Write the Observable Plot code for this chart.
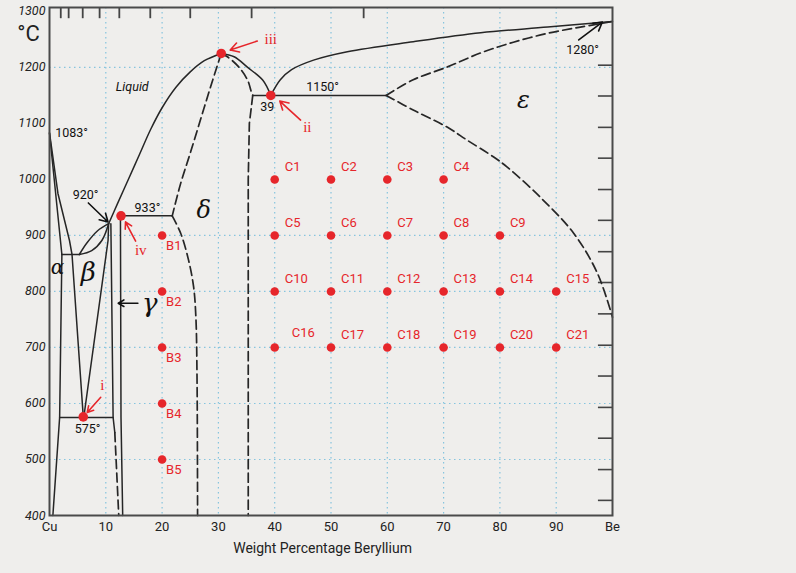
<!DOCTYPE html>
<html><head><meta charset="utf-8">
<script src="https://cdn.jsdelivr.net/npm/d3@7"></script>
<script src="https://cdn.jsdelivr.net/npm/@observablehq/plot@0.6"></script>
<style>
html,body{margin:0;padding:0;background:#efeeec;}
#chart{width:796px;height:573px;}
</style></head><body><div id="chart"></div>
<script>
// ---- axes / ticks ----
const xTickValues = [0,10,20,30,40,50,60,70,80,90,100];
const xTickLabels = ["Cu","10","20","30","40","50","60","70","80","90","Be"];
const yTickValues = [400,500,600,700,800,900,1000,1100,1200,1300];
const xGridValues = [10,20,30,40,50,60,70,80,90];
const yGridValues = [500,600,700,800,900,1200];
const atomicTickWt = [2.0,3.4,5.9,8.9,12.4,17.9,25.0,35.9,55.8];      // top ticks (atomic % positions)
const fahrenheitTickC = [427,482,538,593,649,704,760,816,871,927,982,1038,1093,1149,1204]; // right ticks (°F positions)
const xTitle = "Weight Percentage Beryllium";
const yUnit = "°C";

// ---- phase boundaries (wt% Be, °C) ----
const alphaSolidus   = [[0,1083],[2.2,866]];
const alphaSolvus    = [[2.2,866],[1.8,575],[0.6,400]];
const cuLiquidus     = [[0,1083],[1.5,975],[3.55,891],[4.0,866],[6.0,576]];
const peritectic866  = [[2.2,866],[5.3,866]];
const lensUpper      = [[5.3,866],[6.6,886],[8.5,908],[10.5,921]];
const lensLower      = [[5.3,866],[7.5,873],[9.3,891],[10.5,921]];
const betaRight      = [[10.5,921],[10.4,891],[6.1,576]];
const eutectoid575   = [[1.8,575],[11.3,575]];
const gammaLeft      = [[10.9,921],[11.3,575],[11.6,548]];
const gammaLeftDash  = [[11.6,548],[12.3,400]];
const gammaRight     = [[12.6,935],[12.7,575],[13.0,400]];
const line933        = [[12.7,935],[21.8,935]];
const liquidusDelta  = [[10.5,921],[12,955],[14,1000],[16,1045],[18,1090],[20,1128],[22.5,1165],[25,1192],[27.5,1212],[30.5,1225]];
const deltaCap       = [[30.5,1225],[32.8,1219],[35.2,1200],[37.9,1177],[39.3,1150]];
const line1150       = [[36.1,1150],[59.8,1150]];
const liquidusEps    = [[39.3,1150],[41,1178],[43,1196],[46.9,1213],[52.9,1228],[64.6,1246],[76.6,1262],[88.5,1272],[100,1282]];
const deltaLeftUpper = [[30.5,1225],[28.6,1165],[26.8,1106],[25.0,1047],[23.3,993],[21.8,935]];
const deltaLeftLower = [[21.8,935],[23.3,904],[24.7,856],[25.6,808],[26.0,754],[26.2,650],[26.3,400]];
const deltaRightUpper= [[30.5,1225],[31.6,1219],[33.6,1201],[35.2,1177],[35.8,1158],[36.1,1150]];
const deltaRightLower= [[36.1,1150],[35.5,1100],[35.3,1000],[35.3,400]];
const epsUpper       = [[59.8,1150],[64.6,1178],[70.7,1201],[76.6,1226],[82.4,1245],[88.5,1261],[94.3,1272],[100,1282]];
const epsLower       = [[59.8,1150],[64.6,1124],[70.7,1093],[74.2,1070],[78.9,1040],[81.3,1022],[87.2,968],[93.1,904],[97.3,833],[100,754]];

// ---- sample points ----
const bNames = ["B1","B2","B3","B4","B5"];
const bWt    = [20,20,20,20,20];
const bTemp  = [900,800,700,600,500];
const cNames = ["C1","C2","C3","C4","C5","C6","C7","C8","C9","C10","C11","C12","C13","C14","C15","C16","C17","C18","C19","C20","C21"];
const cWt    = [40,50,60,70, 40,50,60,70,80, 40,50,60,70,80,90, 40,50,60,70,80,90];
const cTemp  = [1000,1000,1000,1000, 900,900,900,900,900, 800,800,800,800,800,800, 700,700,700,700,700,700];
const keyNames = ["i","ii","iii","iv"];
const keyWt    = [6.0,39.3,30.5,12.7];
const keyTemp  = [576,1150,1225,935];
const keyLabelWt   = [9.4,45.8,39.3,16.2];
const keyLabelTemp = [632,1093,1251,874];
const keyArrowFrom = [[9.1,611],[44.6,1106],[36.9,1247],[15.3,890]];
const keyArrowTo   = [[6.7,584],[40.9,1140],[32.1,1231],[13.5,924]];

// ---- annotations ----
const startLabels = [
  {t:"1083°", x:1.0, y:1083}
];
const numLabels = [
  {t:"920°", x:6.4, y:972},
  {t:"933°", x:17.4, y:949},
  {t:"575°", x:6.75, y:555},
  {t:"39", x:38.7, y:1129},
  {t:"1150°", x:48.5, y:1165},
  {t:"1280°", x:94.7, y:1231}
];
const phaseLabels = [
  {t:"α", x:1.4, y:843, s:20},
  {t:"β", x:6.9, y:834, s:26},
  {t:"γ", x:17.8, y:779, s:26},
  {t:"δ", x:27.4, y:945, s:24},
  {t:"ε", x:84.2, y:1142, s:24}
];
const blackArrows = [
  {x1:6.9, y1:958, x2:10.4, y2:924},
  {x1:94.0, y1:1249, x2:98.2, y2:1281},
  {x1:15.7, y1:779, x2:12.2, y2:779}
];

const bData = bNames.map((n,i)=>({n, x:bWt[i], y:bTemp[i]}));
const cData = cNames.map((n,i)=>({n, x:cWt[i], y:cTemp[i]}));
const kData = keyNames.map((n,i)=>({n, x:keyWt[i], y:keyTemp[i], lx:keyLabelWt[i], ly:keyLabelTemp[i],
  x1:keyArrowFrom[i][0], y1:keyArrowFrom[i][1], x2:keyArrowTo[i][0], y2:keyArrowTo[i][1]}));

const INK = "#262626", RED = "#e6262b", GRID = "#86c4de";
const lineMark = (arr, curve, dashed) => Plot.line(arr, {x:d=>d[0], y:d=>d[1], curve, stroke:INK,
  strokeWidth: dashed ? 1.7 : 1.5, strokeDasharray: dashed ? "9,4.5" : null});

const solidLinear = [alphaSolidus, alphaSolvus, cuLiquidus, peritectic866, betaRight, eutectoid575, gammaLeft, gammaRight, line933, line1150];
const solidCurved = [lensUpper, lensLower, liquidusDelta, deltaCap, liquidusEps];
const dashedCurved = [deltaLeftUpper, deltaLeftLower, deltaRightUpper, epsUpper, epsLower];
const dashedLinear = [gammaLeftDash, deltaRightLower];

const FONT = "Roboto, 'Liberation Sans', sans-serif";
const chart = Plot.plot({
  width: 796, height: 573,
  marginLeft: 49, marginRight: 184, marginTop: 7, marginBottom: 58,
  style: {background: "#efeeec", fontFamily: FONT, color: "#222"},
  x: {domain: [0,100]},
  y: {domain: [400,1307]},
  marks: [
    Plot.gridX(xGridValues, {stroke: GRID, strokeOpacity: 1, strokeWidth: 1.2, strokeDasharray: "1.5,3.5"}),
    Plot.gridY(yGridValues, {stroke: GRID, strokeOpacity: 1, strokeWidth: 1.2, strokeDasharray: "1.5,3.5"}),
    Plot.ruleX(atomicTickWt, {y1: 1307, y2: 1287, stroke: "#444", strokeWidth: 1.8}),
    Plot.ruleY(fahrenheitTickC, {x1: 97.5, x2: 100, stroke: "#444", strokeWidth: 1.6}),
    ...solidLinear.map(a => lineMark(a, "linear", false)),
    ...solidCurved.map(a => lineMark(a, "catmull-rom", false)),
    ...dashedCurved.map(a => lineMark(a, "catmull-rom", true)),
    ...dashedLinear.map(a => lineMark(a, "linear", true)),
    Plot.frame({stroke: "#4a4a4a", strokeWidth: 2}),
    Plot.axisX(xTickValues, {tickSize: 0, tickPadding: 6, fontSize: 13, label: null, fill: "#222",
      tickFormat: d => xTickLabels[xTickValues.indexOf(d)]}),
    Plot.axisY(yTickValues, {tickSize: 0, tickPadding: 4, fontSize: 12.5, fontStyle: "italic", label: null, fill: "#222",
      tickFormat: d => String(d)}),
    Plot.text([xTitle], {frameAnchor: "bottom", x: 48.5, dy: 33, lineAnchor: "middle", fontSize: 14, text: d => d, fill: "#222"}),
    Plot.text([yUnit], {frameAnchor: "top-left", dx: -21, dy: 26, textAnchor: "middle", lineAnchor: "middle", fontSize: 22, text: d => d, fill: "#222"}),
    Plot.text(startLabels, {x: "x", y: "y", text: "t", textAnchor: "start", fontSize: 12.5, fill: "#111"}),
    Plot.text(numLabels, {x: "x", y: "y", text: "t", fontSize: 12.5, fill: "#111"}),
    Plot.text(phaseLabels, {x: "x", y: "y", text: "t", fontSize: d => d.s, fontStyle: "italic", fill: "#111", fontFamily: "'DejaVu Serif', 'Liberation Serif', serif"}),
    Plot.text([{t:"Liquid", x:14.7, y:1165}], {x:"x", y:"y", text:"t", fontSize: 12.5, fontStyle: "italic", fill: "#111"}),
    Plot.arrow(blackArrows, {x1:"x1", y1:"y1", x2:"x2", y2:"y2", stroke: "#111", strokeWidth: 1.6, headLength: 9}),
    Plot.arrow(kData, {x1:"x1", y1:"y1", x2:"x2", y2:"y2", stroke: RED, strokeWidth: 1.6, headLength: 9}),
    Plot.dot(bData, {x:"x", y:"y", r: 4.3, fill: RED}),
    Plot.dot(cData, {x:"x", y:"y", r: 4.3, fill: RED}),
    Plot.dot(kData, {x:"x", y:"y", r: 4.8, fill: RED}),
    Plot.text(bData, {x:"x", y:"y", text:"n", textAnchor: "start", dx: 4, dy: 10, fontSize: 13, fill: RED}),
    Plot.text(cData.filter(d => d.n !== "C16"), {x:"x", y:"y", text:"n", textAnchor: "start", dx: 10, dy: -13, fontSize: 13, fill: RED}),
    Plot.text(cData.filter(d => d.n === "C16"), {x:"x", y:"y", text:"n", textAnchor: "start", dx: 17, dy: -15, fontSize: 13, fill: RED}),
    Plot.text(kData, {x:"lx", y:"ly", text:"n", fontSize: 15, fill: RED, fontFamily: "'Liberation Serif', 'DejaVu Serif', serif"})
  ]
});
document.getElementById("chart").appendChild(chart);
</script></body></html>
